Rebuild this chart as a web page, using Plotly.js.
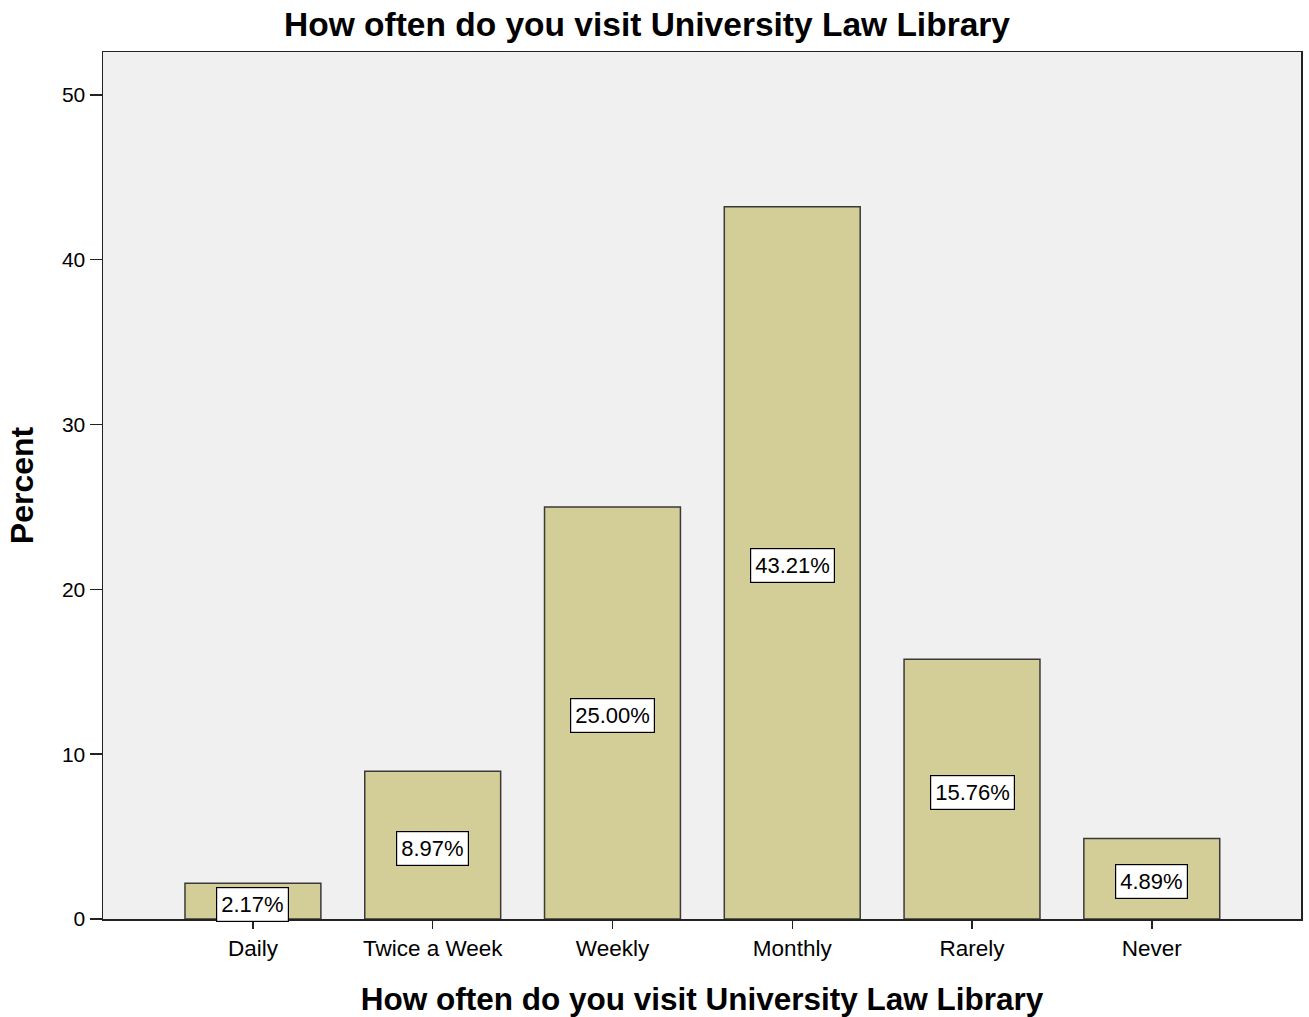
<!DOCTYPE html>
<html>
<head>
<meta charset="utf-8">
<script src="https://cdn.plot.ly/plotly-3.0.1.min.js"></script>
<style>html,body{margin:0;padding:0;background:#fff;}#chart{width:1309px;height:1017px;}</style>
</head>
<body>
<div id="chart"></div>
<script>
const categories = ["Daily", "Twice a Week", "Weekly", "Monthly", "Rarely", "Never"];
const percents = [2.17, 8.97, 25.00, 43.21, 15.76, 4.89];
const yTicks = [0, 10, 20, 30, 40, 50];
const chartTitle = "How often do you visit University Law Library";
const xTitle = "How often do you visit University Law Library";
const yTitle = "Percent";

const FONT = "Liberation Sans, Arial, sans-serif";

const trace = {
  type: "bar",
  x: categories,
  y: percents,
  width: 0.756,
  marker: { color: "#D3CE97", line: { color: "#3a3a3a", width: 1.5 } },
  hoverinfo: "x+y"
};

const annotations = categories.map((c, i) => ({
  x: c,
  y: percents[i] / 2,
  xref: "x",
  yref: "y",
  yshift: -3,
  text: percents[i].toFixed(2) + "%",
  showarrow: false,
  bgcolor: "#ffffff",
  bordercolor: "#000000",
  borderwidth: 1.2,
  borderpad: 4,
  font: { family: FONT, size: 22, color: "#000" }
}));

const layout = {
  width: 1309,
  height: 1017,
  margin: { l: 103, r: 8, t: 52, b: 98 },
  paper_bgcolor: "#ffffff",
  plot_bgcolor: "#F0F0F0",
  showlegend: false,
  font: { family: FONT, color: "#000" },
  title: {
    text: chartTitle,
    font: { family: FONT, size: 33.5, color: "#000", weight: "bold" },
    x: 647 / 1309, xanchor: "center",
    y: 1 - 24 / 1017, yanchor: "middle", yref: "container"
  },
  xaxis: {
    type: "category",
    range: [-0.834, 5.83],
    showline: true, linecolor: "#222", linewidth: 1.5,
    mirror: true,
    ticks: "outside", ticklen: 8, tickwidth: 1.5, tickcolor: "#222",
    tickfont: { family: FONT, size: 22.5, color: "#000" },
    showgrid: false, zeroline: false,
    title: { text: xTitle, font: { family: FONT, size: 31.5, color: "#000", weight: "bold" }, standoff: 28 }
  },
  yaxis: {
    range: [0, 52.6],
    tickvals: yTicks,
    ticktext: yTicks.map(String),
    showline: true, linecolor: "#222", linewidth: 1.5,
    mirror: true,
    ticks: "outside", ticklen: 12, tickwidth: 1.5, tickcolor: "#222",
    tickfont: { family: FONT, size: 21, color: "#000" },
    showgrid: false, zeroline: false,
    title: { text: yTitle, font: { family: FONT, size: 32, color: "#000", weight: "bold" }, standoff: 18 }
  },
  annotations: annotations
};

Plotly.newPlot("chart", [trace], layout, { displayModeBar: false, staticPlot: true });
</script>
</body>
</html>
